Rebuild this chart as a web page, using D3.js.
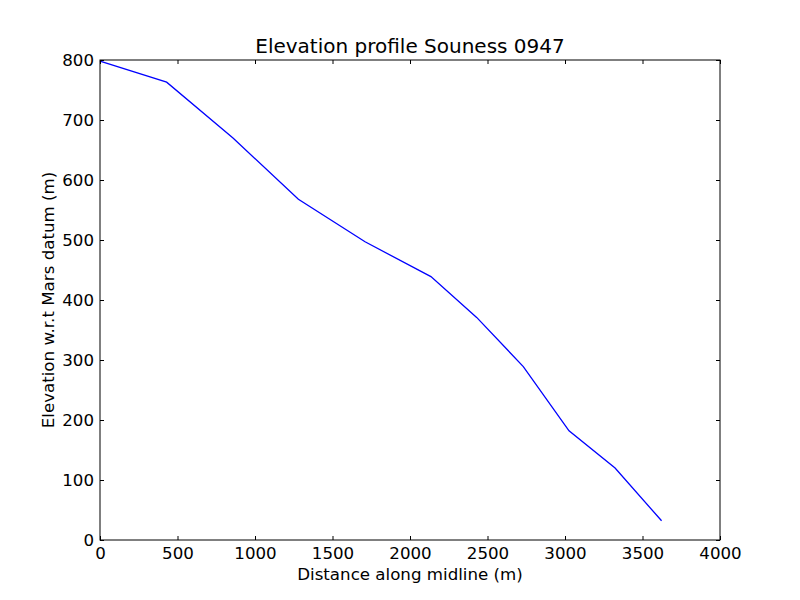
<!DOCTYPE html>
<html><head><meta charset="utf-8">
<script src="https://cdn.jsdelivr.net/npm/d3@7"></script>
<style>body{margin:0;background:#fff}svg{display:block}text{font-family:"DejaVu Sans",sans-serif;fill:#000}</style>
</head><body>
<script>
const distance = [0, 430, 858, 1280, 1710, 2135, 2430, 2731, 3026, 3323, 3623];
const elevation = [798, 763, 670, 568, 497, 439, 371, 289, 182, 120, 32];
const xTicks = [0, 500, 1000, 1500, 2000, 2500, 3000, 3500, 4000];
const yTicks = [0, 100, 200, 300, 400, 500, 600, 700, 800];

const W = 800, H = 600;
const m = {l: 100, r: 80, t: 60, b: 60};
const svg = d3.select("body").append("svg").attr("width", W).attr("height", H);
const x = d3.scaleLinear().domain([0, 4000]).range([m.l, W - m.r]);
const y = d3.scaleLinear().domain([0, 800]).range([H - m.b, m.t]);
const fs = 16.67;

svg.append("path").datum(distance.map((d, i) => [d, elevation[i]]))
  .attr("fill", "none").attr("stroke", "#0000ff").attr("stroke-width", 1.3)
  .attr("d", d3.line().x(d => x(d[0])).y(d => y(d[1])));

const tl = 4;
function styleAxis(g) {
  g.select(".domain").remove();
  g.selectAll("line").attr("stroke", "#000").attr("stroke-width", 1);
  g.selectAll("text").attr("font-size", fs).attr("font-family", "DejaVu Sans");
}
svg.append("g").attr("transform", `translate(0,${y(0)})`)
  .call(d3.axisBottom(x).tickValues(xTicks).tickSize(-tl).tickPadding(7).tickFormat(d3.format("d")))
  .call(styleAxis);
svg.append("g").attr("transform", `translate(0,${y(800)})`)
  .call(d3.axisTop(x).tickValues(xTicks).tickSize(-tl).tickFormat(""))
  .call(styleAxis);
svg.append("g").attr("transform", `translate(${x(0)},0)`)
  .call(d3.axisLeft(y).tickValues(yTicks).tickSize(-tl).tickPadding(6).tickFormat(d3.format("d")))
  .call(styleAxis);
svg.append("g").attr("transform", `translate(${x(4000)},0)`)
  .call(d3.axisRight(y).tickValues(yTicks).tickSize(-tl).tickFormat(""))
  .call(styleAxis);

svg.append("rect").attr("x", m.l).attr("y", m.t).attr("width", W - m.l - m.r).attr("height", H - m.t - m.b)
  .attr("fill", "none").attr("stroke", "#000").attr("stroke-width", 1);

svg.append("text").attr("x", (m.l + W - m.r) / 2).attr("y", 53).attr("text-anchor", "middle")
  .attr("font-size", 20).text("Elevation profile Souness 0947");
svg.append("text").attr("x", (m.l + W - m.r) / 2).attr("y", 580).attr("text-anchor", "middle")
  .attr("font-size", fs).text("Distance along midline (m)");
svg.append("text").attr("transform", `translate(54,${(m.t + H - m.b) / 2}) rotate(-90)`).attr("text-anchor", "middle")
  .attr("font-size", fs).text("Elevation w.r.t Mars datum (m)");
</script>
</body></html>
